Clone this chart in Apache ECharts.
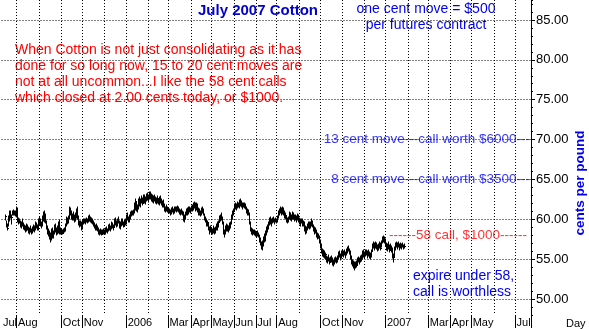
<!DOCTYPE html>
<html>
<head>
<meta charset="utf-8">
<title>July 2007 Cotton</title>
<script src="https://cdn.jsdelivr.net/npm/echarts@6/dist/echarts.min.js"></script>
<style>
  html, body { margin: 0; padding: 0; background: #ffffff; }
  #chart { width: 589px; height: 329px; }
</style>
</head>
<body>
<div id="chart"></div>
<script>
// Daily July 2007 cotton futures, cents per pound (weekday axis starting 11 Jul 2005)
const FIRST_DAY = [2005, 6, 11];
const DAY_COUNT = 531;
const DATA_START = 4;

const lows = [
  59.9,59.0,58.6,59.2,59.8,60.2,59.4,60.5,60.6,60.5,
  60.4,60.3,59.6,59.4,59.5,59.0,58.9,59.1,58.8,58.6,
  58.4,58.5,58.7,58.3,58.2,58.4,58.2,58.3,58.5,58.4,
  58.6,58.9,58.6,58.7,59.3,59.2,58.9,59.2,59.8,59.7,
  59.5,58.8,58.2,57.9,57.5,57.2,57.4,57.7,57.6,58.2,
  58.4,58.0,58.1,58.3,58.2,58.1,58.2,58.1,58.3,58.4,
  58.5,59.2,59.4,59.5,60.0,60.5,60.1,59.9,59.9,59.6,
  59.8,60.2,60.0,59.3,59.0,59.1,58.6,58.8,59.4,59.5,
  59.4,59.6,59.5,59.6,59.8,59.6,59.5,59.4,59.1,58.9,
  58.6,58.7,58.5,58.2,58.0,58.1,58.0,58.1,58.2,58.1,
  58.2,58.4,58.3,58.5,58.7,58.5,58.8,58.9,58.6,59.0,
  59.3,59.0,59.2,59.5,58.9,58.8,59.1,59.3,59.0,59.1,
  59.3,59.4,59.9,59.6,59.7,60.0,60.4,60.5,60.6,60.8,
  61.2,61.0,60.9,61.3,61.7,61.6,62.0,61.8,62.0,62.1,
  61.9,62.3,62.4,62.2,62.5,62.6,62.3,62.2,62.1,62.3,
  62.0,61.9,62.0,61.9,61.8,62.0,61.8,61.6,61.5,61.1,
  60.9,61.0,60.9,60.8,60.8,60.6,60.7,60.9,60.7,60.8,
  61.0,60.9,61.0,60.9,60.7,60.6,60.7,60.5,59.8,59.6,
  60.0,60.5,60.6,60.7,60.9,60.8,61.0,61.1,61.2,61.4,
  61.0,61.2,60.9,60.6,60.5,60.4,60.6,60.8,60.5,59.9,
  59.6,59.2,59.1,58.6,58.2,58.4,58.2,58.1,58.3,58.2,
  58.3,58.6,58.7,59.0,59.6,59.8,59.9,59.4,58.1,57.8,
  58.2,58.5,58.5,58.4,58.6,58.9,59.4,60.0,60.5,61.0,
  61.3,61.2,61.4,61.5,61.4,61.7,61.6,61.3,61.5,61.4,
  61.3,60.8,60.6,60.5,59.4,58.5,58.2,58.0,58.1,58.0,
  57.9,57.8,57.9,57.8,57.2,56.8,56.3,56.2,56.7,57.1,
  57.3,58.0,58.4,58.8,59.3,59.4,59.2,59.5,59.6,59.4,
  59.6,59.5,59.7,60.2,60.5,60.8,60.6,60.7,60.6,60.2,
  60.0,59.7,59.5,59.6,60.0,59.9,59.8,60.0,60.1,59.8,
  59.9,59.6,59.9,59.7,59.4,59.2,59.5,59.2,59.1,58.5,
  58.2,58.3,58.6,58.9,58.8,58.9,59.2,59.0,58.5,58.2,
  58.3,57.8,57.5,57.6,57.0,56.4,55.8,55.4,55.3,55.2,
  55.0,54.6,54.5,54.8,54.4,54.6,54.7,54.3,54.2,54.4,
  54.6,54.5,54.7,55.0,55.3,54.9,55.2,55.4,55.3,55.5,
  55.2,55.5,55.8,56.0,55.6,55.0,54.4,54.1,53.9,53.8,
  53.6,53.9,54.0,54.3,54.6,54.4,54.7,54.8,55.0,55.3,
  55.1,55.4,55.5,55.2,55.4,55.1,55.0,55.3,56.0,56.4,
  56.2,56.4,56.3,56.0,56.1,56.4,56.2,56.5,57.0,57.2,
  57.0,56.6,56.2,56.0,56.3,55.9,56.1,55.9,55.2,54.7,
  55.3,56.2,56.5,56.3,56.5,56.2,56.4,56.3,56.5,56.3,56.4
];

const highs = [
  60.6,59.8,59.4,60.4,61.0,61.0,60.6,61.1,61.2,61.1,
  61.0,61.5,61.4,60.2,60.0,59.8,59.7,60.0,59.5,59.3,
  59.2,59.4,59.3,59.0,58.9,59.1,58.8,59.0,59.3,59.2,
  59.6,59.5,59.3,60.0,60.3,60.1,59.7,60.4,60.9,61.0,
  60.7,59.8,59.2,58.8,58.5,58.3,58.8,58.9,58.5,59.3,
  59.4,58.9,59.2,59.6,59.9,58.9,58.8,58.7,58.8,58.9,
  59.4,60.3,60.2,60.4,61.5,61.4,61.0,60.7,60.9,60.5,
  60.8,61.3,61.5,60.4,59.8,59.8,59.7,59.9,60.0,60.1,
  60.0,60.2,60.1,60.4,60.5,60.3,60.2,60.0,59.8,59.5,
  59.3,59.4,59.2,58.9,58.7,58.8,58.6,58.7,58.8,58.6,
  58.9,59.0,58.8,59.3,59.4,59.2,59.6,59.5,59.3,60.0,
  60.2,59.8,60.1,60.3,59.8,59.6,60.0,60.0,59.7,59.9,
  60.0,60.6,60.8,60.3,60.5,60.9,61.0,61.1,61.2,62.0,
  62.5,62.2,61.8,62.6,62.8,62.5,62.9,62.7,63.0,63.1,
  62.8,63.2,63.3,63.0,63.4,63.4,63.2,63.0,62.9,63.1,
  62.8,62.7,62.9,62.6,62.8,62.9,62.5,62.3,62.4,61.9,
  61.6,61.8,61.5,61.4,61.3,61.2,61.4,61.5,61.3,61.5,
  61.6,61.5,61.7,61.5,61.3,61.2,61.3,61.1,60.9,60.5,
  60.9,61.3,61.4,61.5,61.6,61.4,61.7,61.8,62.0,62.2,
  62.1,62.0,61.9,61.4,61.3,61.1,61.4,61.6,61.3,60.7,
  60.3,60.0,59.8,59.5,59.0,59.2,58.9,58.8,59.1,58.9,
  59.0,59.4,59.6,59.8,60.4,60.6,60.8,60.3,59.7,58.7,
  59.1,59.4,59.3,59.2,59.5,59.7,60.6,61.0,61.3,61.9,
  62.1,61.9,62.2,62.1,62.4,62.5,62.3,62.0,62.1,62.0,
  61.9,61.6,61.3,61.2,60.8,59.7,58.9,58.8,58.7,58.6,
  58.5,58.4,58.5,58.3,58.0,57.6,57.2,57.3,57.8,58.1,
  58.5,59.0,59.3,59.7,60.2,60.3,60.0,60.2,60.3,60.1,
  60.2,60.0,60.4,61.1,61.3,61.5,61.4,61.5,61.4,61.0,
  60.8,60.4,60.2,60.3,60.9,60.8,60.6,60.9,60.8,60.6,
  60.6,60.4,60.7,60.5,60.2,60.0,60.1,60.0,59.8,59.6,
  59.1,59.0,59.4,59.7,59.6,59.7,60.0,59.8,59.3,59.0,
  58.9,58.6,58.3,58.2,57.9,57.4,56.9,56.3,56.2,56.0,
  55.8,55.4,55.3,55.5,55.2,55.3,55.4,55.1,54.9,55.1,
  55.3,55.2,55.4,55.9,56.0,55.7,56.0,56.1,56.0,56.2,
  55.9,56.3,56.5,56.7,56.3,56.0,55.4,54.9,54.8,54.6,
  54.4,54.7,54.8,55.1,55.3,55.2,55.4,55.5,56.0,56.1,
  55.9,56.2,56.2,56.0,56.1,55.9,55.8,56.2,56.9,57.1,
  57.0,57.2,57.0,56.8,56.9,57.1,57.0,57.3,57.8,57.9,
  57.8,57.5,57.0,56.9,57.1,56.8,56.9,56.6,56.4,55.7,
  56.5,57.0,57.1,57.0,57.1,56.9,57.0,56.9,57.0,56.8,56.9
];

const closes = [
  60.4,59.2,58.9,60.2,60.8,60.6,60.3,60.9,61.0,60.7,
  60.9,61.2,59.9,59.8,59.7,59.2,59.4,59.3,59.0,58.9,
  58.6,59.1,58.9,58.5,58.7,58.5,58.4,58.9,58.7,59.0,
  59.4,59.1,58.8,59.7,60.0,59.4,59.5,60.2,60.1,60.6,
  59.8,59.0,58.4,58.1,57.8,57.9,58.6,58.0,58.3,59.1,
  58.7,58.3,59.0,59.4,58.5,58.4,58.6,58.3,58.7,58.6,
  59.3,60.1,59.6,60.3,61.3,60.8,60.3,60.5,60.2,60.0,
  60.6,61.0,60.2,59.5,59.4,59.6,58.9,59.7,59.8,59.7,
  59.9,60.0,59.8,60.2,60.1,59.9,59.7,59.6,59.3,59.2,
  58.8,59.1,58.7,58.4,58.3,58.6,58.2,58.5,58.4,58.3,
  58.7,58.6,58.6,59.1,58.9,59.0,59.4,59.2,59.0,59.8,
  59.6,59.4,60.0,59.7,59.1,59.4,59.8,59.5,59.2,59.7,
  59.9,60.4,60.1,59.8,60.3,60.7,60.8,60.9,61.1,61.8,
  62.3,61.3,61.6,62.4,62.1,62.3,62.7,62.0,62.8,62.4,
  62.6,63.0,62.7,62.9,63.1,62.8,63.0,62.4,62.7,62.5,
  62.6,62.2,62.7,62.1,62.6,62.3,62.0,61.9,61.7,61.3,
  61.4,61.2,61.0,61.1,60.9,61.0,61.3,61.1,60.9,61.4,
  61.2,61.3,61.5,61.0,60.9,61.0,60.8,60.7,60.0,60.3,
  60.7,61.1,60.9,61.3,61.2,61.3,61.5,61.4,61.8,62.0,
  61.3,61.8,61.1,61.2,60.7,60.9,61.2,61.0,60.7,60.1,
  59.8,59.4,59.6,58.8,58.5,59.0,58.4,58.6,58.9,58.4,
  58.8,59.2,59.4,59.7,60.2,60.4,60.1,59.6,58.4,58.5,
  58.9,59.2,58.8,59.0,59.3,59.5,60.4,60.8,61.1,61.7,
  61.6,61.8,62.0,61.7,62.2,62.0,61.8,61.9,61.7,61.9,
  61.5,61.0,61.1,60.7,59.6,58.7,58.7,58.3,58.5,58.2,
  58.3,58.0,58.3,57.9,57.4,57.0,56.6,57.1,57.6,57.4,
  58.3,58.8,59.1,59.5,60.0,59.7,59.9,60.1,59.8,60.0,
  59.8,59.9,60.3,60.9,61.1,61.3,60.8,61.2,60.9,60.4,
  60.6,59.9,60.0,60.2,60.7,60.1,60.4,60.7,60.3,60.4,
  60.2,60.3,60.5,59.9,59.6,59.8,59.7,59.4,59.6,58.8,
  58.5,58.9,59.2,59.5,59.0,59.5,59.8,59.2,58.7,58.5,
  58.4,58.0,57.8,57.7,57.2,56.6,56.0,55.6,56.0,55.4,
  55.6,54.9,55.1,55.0,54.7,55.1,54.9,54.6,54.5,54.9,
  55.1,54.8,55.2,55.7,55.5,55.5,55.8,55.6,55.9,55.7,
  55.8,56.1,56.3,56.2,55.8,55.2,54.6,54.4,54.6,54.0,
  54.2,54.5,54.3,54.9,55.0,55.1,55.2,55.3,55.8,55.5,
  55.7,56.0,55.7,55.8,55.6,55.4,55.6,56.0,56.7,56.6,
  56.8,57.0,56.5,56.6,56.7,56.9,56.4,57.1,57.6,57.7,
  57.3,56.8,56.4,56.7,56.5,56.1,56.7,56.3,55.5,55.3,
  56.3,56.8,56.7,56.9,56.6,56.8,56.6,56.7,56.8,56.5,56.6
];

// Month captions along the day axis (month key -> caption)
const monthLabels = [
  ['2005-07', 'Jul'], ['2005-08', 'Aug'], ['2005-10', 'Oct'], ['2005-11', 'Nov'],
  ['2006-01', '2006'], ['2006-03', 'Mar'], ['2006-04', 'Apr'], ['2006-05', 'May'],
  ['2006-06', 'Jun'], ['2006-07', 'Jul'], ['2006-08', 'Aug'], ['2006-10', 'Oct'],
  ['2006-11', 'Nov'], ['2007-01', '2007'], ['2007-03', 'Mar'], ['2007-04', 'Apr'],
  ['2007-05', 'May'], ['2007-07', 'Jul']
];

// Price levels with call-value notes
const levelNotes = [
  [70, '13 cent move---call worth $6000---', '#0000ee', 0],
  [65, '8 cent move---call worth $3500---', '#0000ee', 0],
  [58, '------58 call, $1000------', '#ff0000', 3]
];

const FONT = "'Liberation Sans', Arial, Helvetica, sans-serif";

// ---- weekday categories ----
const days = [];
const cursor = new Date(Date.UTC(FIRST_DAY[0], FIRST_DAY[1], FIRST_DAY[2]));
while (days.length < DAY_COUNT) {
  const wd = cursor.getUTCDay();
  if (wd !== 0 && wd !== 6) days.push(cursor.toISOString().slice(0, 10));
  cursor.setUTCDate(cursor.getUTCDate() + 1);
}
const monthStart = new Map();
days.forEach((s, i) => { const k = s.slice(0, 7); if (!monthStart.has(k)) monthStart.set(k, i); });

const labelAt = new Map();
monthLabels.forEach(([k, t]) => { if (monthStart.has(k)) labelAt.set(monthStart.get(k), t); });
const tickAt = new Set([...labelAt.keys()].filter(i => i > 0));
const gridAt = new Set([...monthStart.values()].filter(i => i > 0));

// ---- bars ----
const bars = [];
const n = Math.min(lows.length, highs.length, closes.length);
for (let k = 0; k < n; k++) bars.push([DATA_START + k, lows[k], highs[k], closes[k]]);

const dotted = { type: [1, 2], color: '#000000', width: 1 };

const chart = echarts.init(document.getElementById('chart'), null, { renderer: 'canvas' });
chart.setOption({
  animation: false,
  backgroundColor: '#ffffff',
  textStyle: { fontFamily: FONT },
  title: {
    text: 'July 2007 Cotton',
    left: 198, top: 3, padding: 0,
    textStyle: { color: '#0000cc', fontSize: 15, fontWeight: 'bold', fontFamily: FONT }
  },
  grid: { left: 0, right: 58, top: 0, bottom: 13, containLabel: false },
  xAxis: {
    type: 'category',
    data: days,
    boundaryGap: true,
    axisLine: { show: false },
    axisTick: {
      show: true, interval: (i) => tickAt.has(i), length: 13, inside: false,
      lineStyle: { color: '#000000', width: 1 }
    },
    axisLabel: {
      interval: (i) => labelAt.has(i),
      formatter: (v, i) => labelAt.get(i) || '',
      align: 'left', margin: 2, padding: [0, 0, 0, 1],
      color: '#000000', fontSize: 11, fontFamily: FONT
    },
    splitLine: { show: true, interval: (i) => gridAt.has(i), lineStyle: dotted },
    name: 'Day',
    nameLocation: 'end',
    nameGap: 35,
    nameTextStyle: { color: '#000000', fontSize: 11, fontFamily: FONT, verticalAlign: 'top', padding: [3, 0, 0, 0] }
  },
  yAxis: [
    {
      type: 'value', position: 'right', min: 48, max: 87.5, splitNumber: 8,
      axisLine: { show: true, lineStyle: { color: '#000000', width: 1 } },
      axisTick: { show: true, length: 4, lineStyle: { color: '#000000' } },
      axisLabel: {
        formatter: (v) => v.toFixed(2), showMinLabel: false, showMaxLabel: false,
        margin: 5, color: '#000000', fontSize: 13, fontFamily: FONT
      },
      splitLine: { show: true, showMinLine: false, showMaxLine: false, lineStyle: dotted }
    },
    {
      type: 'value', position: 'right', min: 48, max: 87.5, interval: 1,
      axisLine: { show: false },
      axisTick: { show: true, length: 2, lineStyle: { color: '#000000' } },
      axisLabel: { show: false },
      splitLine: { show: false }
    }
  ],
  series: [
    {
      type: 'custom',
      name: 'July 2007 Cotton',
      xAxisIndex: 0, yAxisIndex: 0,
      data: bars,
      encode: { x: 0, y: [1, 2, 3] },
      silent: true,
      renderItem(params, api) {
        const i = api.value(0);
        const lo = api.coord([i, api.value(1)]);
        const hi = api.coord([i, api.value(2)]);
        const cl = api.coord([i, api.value(3)]);
        const x = Math.floor(lo[0]) + 0.5;
        const yc = Math.round(cl[1]) + 0.5;
        return {
          type: 'group',
          children: [
            { type: 'line', shape: { x1: x, y1: Math.round(lo[1]) + 0.5, x2: x, y2: Math.round(hi[1]) - 0.5 },
              style: { stroke: '#000000', lineWidth: 1 } },
            { type: 'line', shape: { x1: x, y1: yc, x2: x + 1.5, y2: yc },
              style: { stroke: '#000000', lineWidth: 1 } }
          ]
        };
      }
    },
    {
      type: 'scatter',
      xAxisIndex: 0, yAxisIndex: 0,
      silent: true,
      symbolSize: 1,
      itemStyle: { color: 'rgba(0,0,0,0)' },
      data: levelNotes.map(([v, text, color, gap]) => ({
        value: [DAY_COUNT - 1, v],
        label: {
          show: true, position: 'left', distance: gap, formatter: text,
          color: color, fontSize: 13.5, fontFamily: FONT
        }
      }))
    }
  ],
  graphic: [
    {
      type: 'text', x: 426, y: 1, silent: true,
      style: {
        text: 'one cent move = $500\nper futures contract',
        align: 'center', verticalAlign: 'top', lineHeight: 16,
        fill: '#0000ee', fontSize: 14, fontFamily: FONT
      }
    },
    {
      type: 'text', x: 15, y: 42, silent: true,
      style: {
        text: 'When Cotton is not just consolidating as it has\n' +
              'done for so long now, 15 to 20 cent moves are\n' +
              'not at all uncommon...I like the 58 cent calls\n' +
              'which closed at 2.00 cents today, or $1000.',
        align: 'left', verticalAlign: 'top', lineHeight: 16,
        fill: '#ff0000', fontSize: 14, fontFamily: FONT
      }
    },
    {
      type: 'text', x: 413, y: 268, silent: true,
      style: {
        text: 'expire under 58,\ncall is worthless',
        align: 'left', verticalAlign: 'top', lineHeight: 16,
        fill: '#0000ee', fontSize: 14, fontFamily: FONT
      }
    },
    {
      type: 'text', x: 580, y: 183, rotation: Math.PI / 2, silent: true,
      style: {
        text: 'cents per pound',
        align: 'center', verticalAlign: 'middle',
        fill: '#0000ee', fontSize: 13.5, fontWeight: 'bold', fontFamily: FONT
      }
    }
  ]
});
</script>
</body>
</html>
